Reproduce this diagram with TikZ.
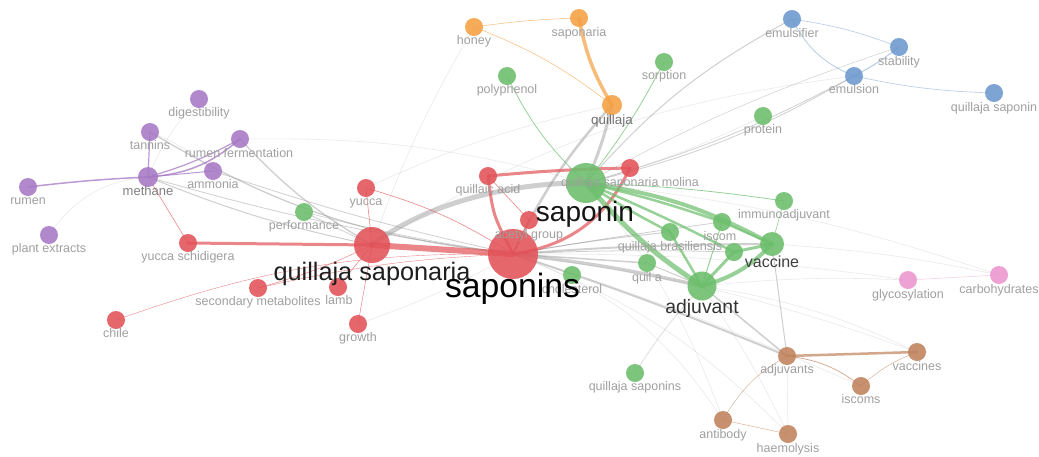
\documentclass[tikz,border=0pt]{standalone}
\usepackage{fontspec}
\setmainfont{Liberation Sans}
\definecolor{cred}{RGB}{226,82,88}
\definecolor{cgreen}{RGB}{108,190,108}
\definecolor{cpurple}{RGB}{166,120,196}
\definecolor{corange}{RGB}{245,160,66}
\definecolor{cblue}{RGB}{108,152,205}
\definecolor{cpink}{RGB}{236,150,206}
\definecolor{cbrown}{RGB}{192,130,92}
\definecolor{lgray}{RGB}{160,160,160}
\definecolor{egray}{RGB}{150,150,150}
\pgfdeclarelayer{bg}
\pgfsetlayers{bg,main}
\tikzset{
  kw/.style={circle, inner sep=0pt, minimum size=18pt, fill=#1, fill opacity=.88, draw=none},
  lb/.style={anchor=base, inner sep=0pt, text=lgray, font=\fontsize{12.5}{13}\selectfont},
  big/.style={anchor=base, inner sep=0pt},
  eg/.style={draw=egray, draw opacity=.45, line width=#1, line cap=round},
  eg/.default=0.6,
  el/.style={draw=egray, draw opacity=.2, line width=0.6},
  er/.style={draw=cred, draw opacity=.7, line width=#1, line cap=round},
  er/.default=0.6,
  egr/.style={draw=cgreen, draw opacity=.7, line width=#1, line cap=round},
  egr/.default=0.6,
  ep/.style={draw=cpurple, draw opacity=.75, line width=#1, line cap=round},
  ep/.default=0.6,
  eo/.style={draw=corange, draw opacity=.7, line width=#1, line cap=round},
  eo/.default=0.5,
  eb/.style={draw=cblue, draw opacity=.5, line width=#1, line cap=round},
  eb/.default=0.6,
  ebr/.style={draw=cbrown, draw opacity=.7, line width=#1, line cap=round},
  ebr/.default=0.6,
  epk/.style={draw=cpink, draw opacity=.5, line width=#1},
  epk/.default=0.5,
}
\begin{document}
\begin{tikzpicture}[x=1pt,y=-1pt]
\useasboundingbox (0,0) rectangle (1039,456);
% purple
\node[kw=cpurple] (dig) at (199,99) {};
\node[kw=cpurple] (tan) at (150,132) {};
\node[kw=cpurple] (rf) at (240,139) {};
\node[kw=cpurple] (amm) at (213,171) {};
\node[kw=cpurple, minimum size=20pt] (met) at (148,177) {};
\node[kw=cpurple] (rum) at (28,187) {};
\node[kw=cpurple] (pe) at (49,235) {};
% red
\node[kw=cred] (yuc) at (366,188) {};
\node[kw=cred] (ysc) at (188,243) {};
\node[kw=cred, minimum size=36pt] (qs) at (372,245) {};
\node[kw=cred, minimum size=50pt] (sps) at (513,254) {};
\node[kw=cred] (qa) at (488,176) {};
\node[kw=cred] (ag) at (529,220) {};
\node[kw=cred] (qsm) at (630,168) {};
\node[kw=cred] (sm) at (258,288) {};
\node[kw=cred] (lamb) at (338,287) {};
\node[kw=cred] (gro) at (358,324) {};
\node[kw=cred] (chi) at (116,320) {};
% green
\node[kw=cgreen] (perf) at (304,212) {};
\node[kw=cgreen] (poly) at (507,76) {};
\node[kw=cgreen] (sor) at (664,62) {};
\node[kw=cgreen, minimum size=40pt] (spn) at (586,183) {};
\node[kw=cgreen] (pro) at (763,116) {};
\node[kw=cgreen] (imm) at (784,201) {};
\node[kw=cgreen] (isc) at (722,222) {};
\node[kw=cgreen] (qb) at (670,232) {};
\node[kw=cgreen] (hid) at (734,252) {};
\node[kw=cgreen, minimum size=24pt] (vac) at (772,244) {};
\node[kw=cgreen] (quila) at (647,263) {};
\node[kw=cgreen] (chol) at (572,275) {};
\node[kw=cgreen, minimum size=29pt] (adj) at (702,286) {};
\node[kw=cgreen] (qsn) at (635,373) {};
% orange
\node[kw=corange] (hon) at (474,27) {};
\node[kw=corange] (sap) at (579,18) {};
\node[kw=corange, minimum size=20pt] (qui) at (612,105) {};
% blue
\node[kw=cblue] (emf) at (792,19) {};
\node[kw=cblue] (stab) at (899,47) {};
\node[kw=cblue] (ems) at (854,76) {};
\node[kw=cblue] (qsp) at (994,93) {};
% pink
\node[kw=cpink] (gly) at (908,280) {};
\node[kw=cpink] (carb) at (999,275) {};
% brown
\node[kw=cbrown] (ads) at (787,356) {};
\node[kw=cbrown] (vcs) at (917,352) {};
\node[kw=cbrown] (iscs) at (861,386) {};
\node[kw=cbrown] (ab) at (723,420) {};
\node[kw=cbrown] (hae) at (788,434) {};

\begin{pgfonlayer}{bg}
\fill[white] (0,0) rectangle (1039,456);
% faint long lines
\draw[el] (pe.center) to[bend left=25] (met.center);
\draw[el] (dig.center) to[bend right=10] (met.center);
\draw[el] (rf.center) to[bend left=8] (spn.center);
\draw[el] (qs.center) to[bend left=12] (ems.center);
\draw[el] (hon.center) to[bend right=5] (qs.center);
\draw[el] (yuc.center) to[bend left=6] (qui.center);
\draw[el] (sps.center) to[bend left=4] (gly.center);
\draw[el] (sps.center) to[bend left=6] (vcs.center);
\draw[el] (sps.center) to[bend left=3] (iscs.center);
\draw[el] (sps.center) to[bend left=12] (hae.center);
\draw[el] (sps.center) to[bend left=18] (ab.center);
\draw[el] (spn.center) to[bend left=10] (ab.center);
\draw[el] (spn.center) to[bend left=6] (carb.center);
\draw[el] (adj.center) to[bend left=4] (gly.center);
\draw[el] (vac.center) to[bend left=4] (carb.center);
\draw[el] (adj.center) to[bend left=4] (hae.center);
\draw[el] (adj.center) to[bend right=5] (qsn.center);
\draw[el] (adj.center) to[bend left=8] (vcs.center);
\draw[el] (spn.center) to[bend right=5] (pro.center);
\draw[el] (gro.center) to[bend right=5] (sps.center);
\draw[el] (qsn.center) to[bend left=5] (adj.center);
\draw[el] (hae.center) to (ads.center);
\draw[el] (tan.center) to[bend left=10] (amm.center);
% gray
\draw[eg=1.3] (tan.center) to[bend right=12] (sps.center);
\draw[eg=1.3] (rf.center) to[bend right=8] (qs.center);
\draw[eg=1] (met.center) to[bend right=5] (qs.center);
\draw[eg=0.8] (met.center) to[bend right=4] (sps.center);
\draw[eg=0.8] (amm.center) to[bend right=3] (sps.center);
\draw[eg=0.8] (perf.center) to (qs.center);
\draw[eg=0.6] (perf.center) to[bend right=3] (sps.center);
\draw[eg=5] (qs.center) .. controls (430,200) and (520,182) .. (spn.center);
\draw[eg=3] (qui.center) to[bend left=5] (spn.center);
\draw[eg=2.5] (qui.center) to[bend right=8] (sps.center);
\draw[eg=3.5] (sps.center) to[bend left=3] (adj.center);
\draw[eg=2] (sps.center) to[bend left=2] (ads.center);
\draw[eg=2] (sps.center) to[bend left=2] (vac.center);
\draw[eg=1.5] (sps.center) to (quila.center);
\draw[eg=1] (sps.center) to[bend left=2] (qb.center);
\draw[eg=0.8] (sps.center) to[bend left=1] (isc.center);
\draw[eg=0.8] (sps.center) to[bend left=2] (hid.center);
\draw[eg=1] (spn.center) to[bend left=10] (emf.center);
\draw[eg=0.8] (spn.center) to[bend right=6] (ems.center);
\draw[eg=0.8] (spn.center) to[bend right=8] (ems.center);
\draw[eg=0.5] (spn.center) to[bend left=5] (stab.center);
\draw[eg=1] (vac.center) to (ads.center);
\draw[eg=1.5] (adj.center) to (ads.center);
\draw[eg=1] (quila.center) to (adj.center);
% purple
\draw[ep=1.5] (rum.center) to[bend left=2] (met.center);
\draw[ep=1.5] (met.center) to[bend right=18] (rf.center);
\draw[ep=1.2] (met.center) to[bend right=6] (rf.center);
\draw[ep=1] (met.center) to (amm.center);
\draw[ep=1.2] (met.center) to (tan.center);
% red
\draw[er=0.6] (ysc.center) to (met.center);
\draw[er=3] (ysc.center) to (qs.center);
\draw[er=6] (qs.center) to (sps.center);
\draw[er=3] (qa.center) to[bend left=2] (qsm.center);
\draw[er=3] (qa.center) .. controls (493,215) .. (sps.center);
\draw[er=3] (sps.center) to[bend right=28] (qsm.center);
\draw[er=0.6] (qa.center) to (ag.center);
\draw[er=1] (ag.center) to (sps.center);
\draw[er=0.6] (yuc.center) to (qs.center);
\draw[er=0.6] (yuc.center) to[bend left=8] (sps.center);
\draw[er=0.5] (sm.center) to[bend right=5] (qs.center);
\draw[er=0.5] (lamb.center) to (qs.center);
\draw[er=0.5] (gro.center) to (qs.center);
\draw[er=0.4] (chi.center) to[bend left=10] (sps.center);
\draw[er=0.4] (sm.center) to[bend left=5] (sps.center);
% green
\draw[egr=5] (spn.center) to[bend right=8] (adj.center);
\draw[egr=4] (spn.center) to[bend left=10] (vac.center);
\draw[egr=2.5] (spn.center) to[bend left=3] (isc.center);
\draw[egr=2.5] (spn.center) to[bend right=3] (qb.center);
\draw[egr=2.5] (spn.center) to[bend left=2] (hid.center);
\draw[egr=4] (adj.center) to[bend right=15] (vac.center);
\draw[egr=3] (adj.center) to (hid.center);
\draw[egr=2.5] (adj.center) to (qb.center);
\draw[egr=3] (hid.center) to (vac.center);
\draw[egr=2] (isc.center) to (vac.center);
\draw[egr=1] (isc.center) to (adj.center);
\draw[egr=0.8] (spn.center) to[bend left=3] (imm.center);
\draw[egr=0.6] (imm.center) to (vac.center);
\draw[egr=0.8] (poly.center) to[bend right=10] (spn.center);
\draw[egr=0.8] (sor.center) to[bend left=5] (spn.center);
% orange
\draw[eo=3.5] (sap.center) to[bend right=10] (qui.center);
\draw[eo=0.5] (hon.center) to[bend left=3] (sap.center);
\draw[eo=0.5] (hon.center) to[bend left=8] (qui.center);
% blue
\draw[eb=0.6] (emf.center) to[bend left=6] (stab.center);
\draw[eb=0.8] (emf.center) to[bend right=20] (ems.center);
\draw[eb=1] (ems.center) to[bend right=5] (stab.center);
\draw[eb=0.6] (ems.center) to[bend right=5] (qsp.center);
% brown
\draw[ebr=2.5] (ads.center) to (vcs.center);
\draw[ebr=0.7] (ads.center) to[bend left=15] (iscs.center);
\draw[ebr=0.4] (iscs.center) to[bend left=10] (vcs.center);
\draw[ebr=0.4] (ab.center) to[bend left=15] (ads.center);
\draw[ebr=0.4] (ab.center) to (hae.center);
% pink
\draw[epk] (gly.center) to (carb.center);
\end{pgfonlayer}

% small labels
\node[lb] (dig-l) at (199,116) {digestibility};
\node[lb] (tan-l) at (150,149) {tannins};
\node[lb] (rf-l) at (239,157) {rumen fermentation};
\node[lb] (amm-l) at (213,188) {ammonia};
\node[lb] (rum-l) at (28,204) {rumen};
\node[lb] (pe-l) at (49,252) {plant extracts};
\node[lb] (yuc-l) at (366,205) {yucca};
\node[lb] (ysc-l) at (188,260) {yucca schidigera};
\node[lb] (qa-l) at (488,193) {quillaic acid};
\node[lb] (ag-l) at (529,238) {acetyl group};
\node[lb] (sm-l) at (258,305) {secondary metabolites};
\node[lb] (lamb-l) at (339,304) {lamb};
\node[lb] (gro-l) at (358,341) {growth};
\node[lb] (chi-l) at (116,337) {chile};
\node[lb] (perf-l) at (304,229) {performance};
\node[lb] (poly-l) at (507,93) {polyphenol};
\node[lb] (sor-l) at (664,79) {sorption};
\node[lb] (pro-l) at (763,133) {protein};
\node[lb] (imm-l) at (784,218) {immunoadjuvant};
\node[lb] (isc-l) at (720,240) {iscom};
\node[lb] (qb-l) at (670,250) {quillaja brasiliensis};
\node[lb] (quila-l) at (647,281) {quil a};
\node[lb] (chol-l) at (572,293) {cholesterol};
\node[lb] (qsn-l) at (635,390) {quillaja saponins};
\node[lb] (hon-l) at (474,44) {honey};
\node[lb] (sap-l) at (579,36) {saponaria};
\node[lb] (emf-l) at (792,37) {emulsifier};
\node[lb] (stab-l) at (899,65) {stability};
\node[lb] (ems-l) at (854,93) {emulsion};
\node[lb] (qsp-l) at (994,111) {quillaja saponin};
\node[lb] (gly-l) at (908,298) {glycosylation};
\node[lb] (carb-l) at (999,293) {carbohydrates};
\node[lb] (ads-l) at (787,373) {adjuvants};
\node[lb] (vcs-l) at (917,370) {vaccines};
\node[lb] (iscs-l) at (861,403) {iscoms};
\node[lb] (ab-l) at (723,438) {antibody};
\node[lb] (hae-l) at (788,452) {haemolysis};
\node[lb] (qsm-l) at (630,186) {quillaja saponaria molina};
% larger labels
\node[big, text=black!50, font=\fontsize{13}{14}\selectfont] (met-l) at (148,195) {methane};
\node[big, text=black!55, font=\fontsize{13.4}{14}\selectfont] (qui-l) at (612,124) {quillaja};
\node[big, text=black!75, font=\fontsize{16}{17}\selectfont] (vac-l) at (772,267) {vaccine};
\node[big, text=black!80, font=\fontsize{19.4}{20}\selectfont] (adj-l) at (702,313) {adjuvant};
\node[big, text=black!88, font=\fontsize{25.3}{26}\selectfont] (qs-l) at (372,280) {quillaja saponaria};
\node[big, text=black!92, font=\fontsize{28}{29}\selectfont] (spn-l) at (585,221) {saponin};
\node[big, text=black, font=\fontsize{33.7}{34}\selectfont] (sps-l) at (512.5,297) {saponins};
\end{tikzpicture}
\end{document}
